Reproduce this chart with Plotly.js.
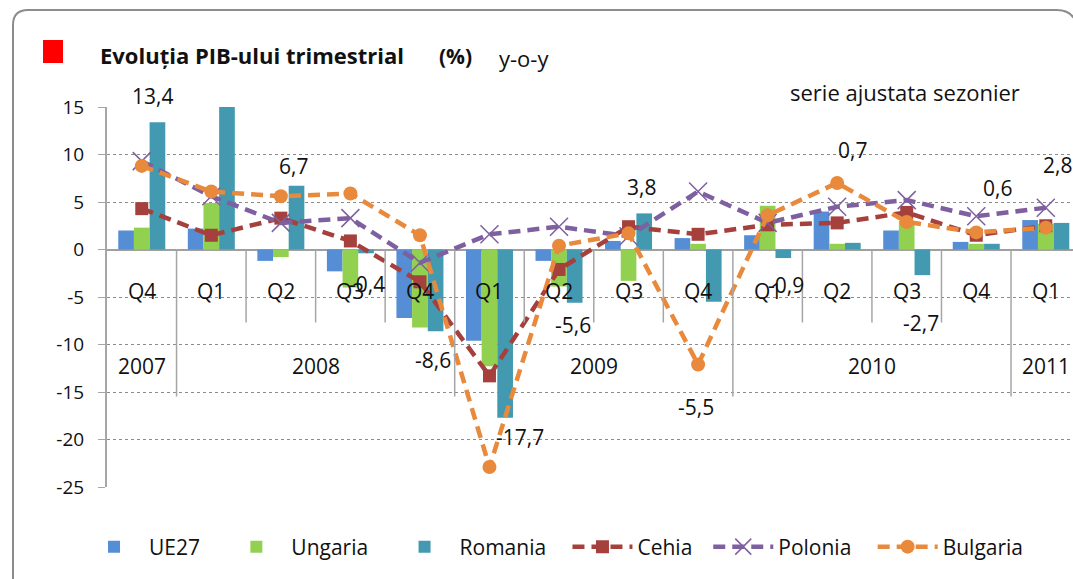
<!DOCTYPE html>
<html>
<head>
<meta charset="utf-8">
<script src="https://cdn.plot.ly/plotly-3.0.1.min.js"></script>
<style>html,body{margin:0;padding:0;background:#fff;}#chart{width:1073px;height:579px;}</style>
</head>
<body>
<div id="chart"></div>
<script>
// ---- data ----
const quarters = ['Q4','Q1','Q2','Q3','Q4','Q1','Q2','Q3','Q4','Q1','Q2','Q3','Q4','Q1'];
const yearLabels = ['2007','2008','2009','2010','2011'];
const quartersPerYear = [1, 4, 4, 4, 1];
const seriesNames = ['UE27', 'Ungaria', 'Romania', 'Cehia', 'Polonia', 'Bulgaria'];
const ue27     = [2.0, 2.2, -1.2, -2.3, -7.2, -9.6, -1.2, 0.9, 1.2, 1.5, 4.0, 2.0, 0.8, 3.1];
const ungaria  = [2.3, 4.9, -0.8, -4.0, -8.2, -12.3, -3.9, -3.3, 0.6, 4.6, 0.6, 3.0, 0.6, 2.7];
const romania  = [13.4, 15.0, 6.7, -0.4, -8.6, -17.7, -5.6, 3.8, -5.5, -0.9, 0.7, -2.7, 0.6, 2.8];
const cehia    = [4.3, 1.5, 3.3, 0.9, -3.4, -13.3, -2.1, 2.4, 1.6, 2.6, 2.8, 3.9, 1.5, 2.5];
const polonia  = [9.3, 5.6, 2.8, 3.3, -1.4, 1.6, 2.4, 1.4, 6.1, 2.8, 4.5, 5.2, 3.5, 4.4];
const bulgaria = [8.8, 6.1, 5.6, 5.9, 1.5, -22.9, 0.4, 1.7, -12.1, 3.6, 7.0, 2.9, 1.8, 2.3];
const yTickVals = [15, 10, 5, 0, -5, -10, -15, -20, -25];
const yTickText = ['15', '10', '5', '0', '-5', '-10', '-15', '-20', '-25'];

// ---- label placement (pixel offsets for Romania data labels; null = no label) ----
const labelShift = [[11,-26],null,[13,-20],[17,31],[13,29],[31,19],[14,22],[13,-26],[-2,105],[18,27],[15,-93],[14,48],[21,-56],[12,-58]];
// extra spacing after each legend entry (non-breaking spaces)
const legendPad = [3, 3, 3, 2, 3, 0];

const FONT = '"Open Sans", "Noto Sans", sans-serif';
const xs = quarters.map((q, i) => i);
const lname = k => seriesNames[k] + '\u00a0'.repeat(legendPad[k]);

// plot area in pixels
const PL = 107, PR = 1073, PT = 107, PB = 487;
const px = p => (p - PL) / (PR - PL);
const py = p => (PB - p) / (PB - PT);

const barCommon = {type: 'bar', x: xs, hoverinfo: 'skip'};
const traces = [
  Object.assign({}, barCommon, {name: lname(0), y: ue27, marker: {color: '#558ED5', line: {width: 0}}}),
  Object.assign({}, barCommon, {name: lname(1), y: ungaria, marker: {color: '#92D050', line: {width: 0}}}),
  Object.assign({}, barCommon, {name: lname(2), y: romania, marker: {color: '#4399B0', line: {width: 0}}}),
  {type: 'scatter', mode: 'lines+markers', name: lname(3), x: xs, y: cehia, hoverinfo: 'skip',
   line: {color: '#A5403D', width: 4.5, dash: '12px,7px'},
   marker: {symbol: 'square', size: 13, color: '#A5403D'}},
  {type: 'scatter', mode: 'lines+markers', name: lname(4), x: xs, y: polonia, hoverinfo: 'skip',
   line: {color: '#7E5FA0', width: 4.5, dash: '12px,7px'},
   marker: {symbol: 'x-thin-open', size: 18, color: '#7E5FA0', line: {width: 1.5, color: '#7E5FA0'}}},
  {type: 'scatter', mode: 'lines+markers', name: lname(5), x: xs, y: bulgaria, hoverinfo: 'skip',
   line: {color: '#E8893C', width: 4.5, dash: '12px,7px'},
   marker: {symbol: 'circle', size: 14, color: '#E8893C'}}
];

const shapes = [];
const annotations = [];
// category separators below zero line
const yearBounds = [];
let acc = 0;
quartersPerYear.forEach(n => { acc += n; yearBounds.push(acc); });
for (let i = 1; i < quarters.length; i++) {
  const isYear = yearBounds.indexOf(i) >= 0;
  shapes.push({type: 'line', xref: 'x', yref: 'y', x0: i - 0.5, x1: i - 0.5,
    ysizemode: 'pixel', yanchor: 0, y0: 0, y1: isYear ? -147 : -73,
    line: {color: '#A6A6A6', width: 1.5}, layer: 'above'});
}
const txt = (size) => ({family: FONT, size: size, color: '#111'});
// quarter labels
quarters.forEach((q, i) => annotations.push({x: i, y: 0, xref: 'x', yref: 'y', text: q, showarrow: false,
  xanchor: 'center', yanchor: 'middle', yshift: -41, font: txt(21)}));
// year labels
let start = 0;
yearLabels.forEach((yl, k) => {
  const c = start + (quartersPerYear[k] - 1) / 2;
  annotations.push({x: c, y: 0, xref: 'x', yref: 'y', text: yl, showarrow: false,
    xanchor: 'center', yanchor: 'middle', yshift: -116, font: txt(21)});
  start += quartersPerYear[k];
});
// Romania data labels
romania.forEach((v, i) => {
  const s = labelShift[i];
  if (!s) return;
  annotations.push({x: i, y: v, xref: 'x', yref: 'y', text: v.toFixed(1).replace('.', ','),
    showarrow: false, xanchor: 'center', yanchor: 'middle', xshift: s[0], yshift: -s[1], font: txt(21)});
});
// header texts
annotations.push({xref: 'paper', yref: 'paper', x: px(455), y: py(56), xanchor: 'center', yanchor: 'middle',
  text: '<b>(%)</b>', showarrow: false, font: txt(21)});
annotations.push({xref: 'paper', yref: 'paper', x: px(524), y: py(58), xanchor: 'center', yanchor: 'middle',
  text: 'y-o-y', showarrow: false, font: txt(22)});
annotations.push({xref: 'paper', yref: 'paper', x: px(905), y: py(92), xanchor: 'center', yanchor: 'middle',
  text: 'serie ajustata sezonier', showarrow: false, font: txt(22)});
// red square
shapes.push({type: 'rect', xref: 'paper', yref: 'paper', x0: px(43), x1: px(63), y0: py(40), y1: py(63),
  fillcolor: '#FF0000', line: {width: 0}});
// rounded frame
const fp = [
  'M', px(13), py(590), 'L', px(13), py(25), 'Q', px(13), py(10), px(28), py(10),
  'L', px(1057), py(10), 'Q', px(1071), py(10), px(1076), py(22)
].join(' ');
shapes.push({type: 'path', xref: 'paper', yref: 'paper', path: fp, line: {color: '#8C8C8C', width: 2}});

const layout = {
  width: 1073, height: 579,
  margin: {l: PL, r: 1073 - PR, t: PT, b: 579 - PB, pad: 0},
  paper_bgcolor: '#fff', plot_bgcolor: '#fff',
  font: {family: FONT, color: '#111'},
  title: {text: '<b>Evoluția PIB-ului trimestrial</b>', xref: 'container', yref: 'container',
    x: 100 / 1073, xanchor: 'left', y: 1 - 56 / 579, yanchor: 'middle',
    font: txt(22)},
  barmode: 'group', bargap: 0.324, bargroupgap: 0,
  showlegend: true,
  legend: {orientation: 'h', x: px(79), xanchor: 'left', y: py(547), yanchor: 'middle',
    font: txt(21), traceorder: 'normal', itemwidth: 60, bgcolor: 'rgba(0,0,0,0)'},
  xaxis: {range: [-0.5, -0.5 + (PR - PL) / 69.54], showgrid: false, zeroline: false, showticklabels: false,
    ticks: '', showline: false, fixedrange: true},
  yaxis: {range: [-25, 15], tickvals: yTickVals, ticktext: yTickText, showgrid: true,
    gridcolor: '#8C8C8C', griddash: 'dot', gridwidth: 1,
    zeroline: true, zerolinecolor: '#A0A0A0', zerolinewidth: 2,
    showline: true, linecolor: '#A6A6A6', linewidth: 2, ticks: 'outside', ticklen: 7, tickcolor: '#A6A6A6',
    tickfont: txt(19), ticklabelstandoff: 10, fixedrange: true},
  shapes: shapes,
  annotations: annotations
};

Plotly.newPlot('chart', traces, layout, {displayModeBar: false, staticPlot: true});
</script>
</body>
</html>
